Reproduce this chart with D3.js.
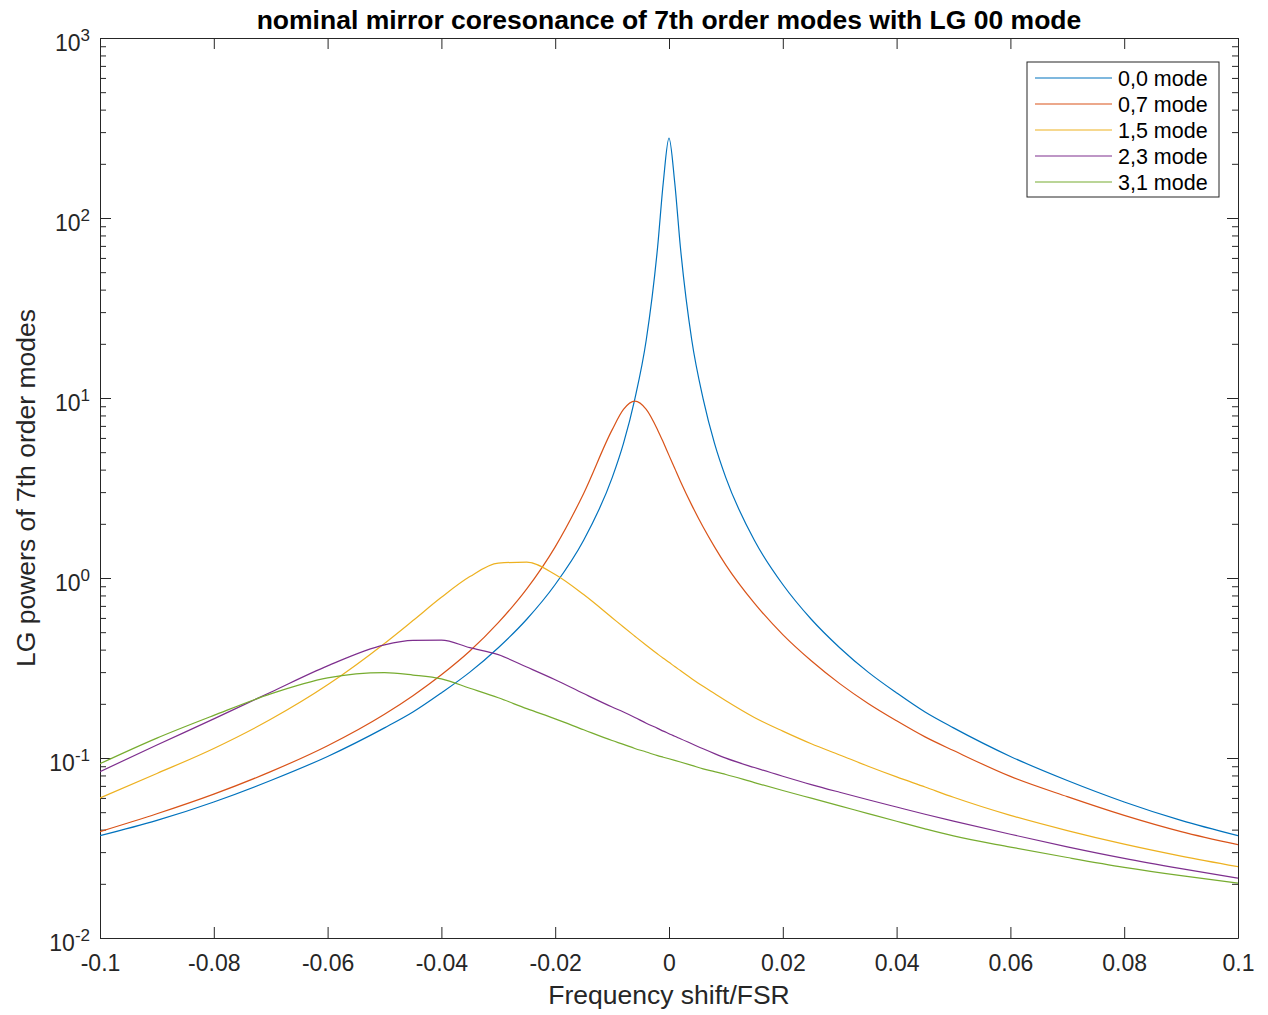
<!DOCTYPE html>
<html>
<head>
    <meta charset="utf-8">
    <style>
        body { margin: 0; background: #fff; }
        text { font-family: "Liberation Sans", Arial, sans-serif; fill: #262626; }
        .axis path, .axis line { stroke: #262626; }
    </style>
</head>
<body>
    <div id="container"></div>
    <script src="https://d3js.org/d3.v7.min.js"></script>
    <script>
        // frequency grid (shift / FSR)
        const freq = [-0.1, -0.09, -0.08, -0.07, -0.06, -0.05, -0.045, -0.04, -0.035, -0.03, -0.025, -0.02, -0.015,
            -0.01, -0.008, -0.006, -0.004, -0.002, -0.001, 0, 0.001, 0.002, 0.004, 0.006, 0.008, 0.01,
            0.015, 0.02, 0.025, 0.03, 0.035, 0.04, 0.045, 0.05, 0.06, 0.07, 0.08, 0.09, 0.1];

        const mode00 = [0.037, 0.045, 0.057, 0.075, 0.102, 0.147, 0.18, 0.23, 0.30, 0.41, 0.59, 0.92, 1.62,
            3.6, 5.6, 9.9, 21, 69, 158, 278, 158, 69, 21, 9.9, 5.6, 3.6,
            1.62, 0.92, 0.59, 0.41, 0.30, 0.23, 0.18, 0.147, 0.102, 0.075, 0.057, 0.045, 0.037];

        const mode07 = [0.039, 0.049, 0.063, 0.084, 0.117, 0.175, 0.222, 0.29, 0.393, 0.565, 0.87, 1.49, 2.95,
            6.65, 8.64, 9.6, 8.64, 6.65, 5.67, 4.8, 4.07, 3.45, 2.54, 1.92, 1.49, 1.18,
            0.725, 0.485, 0.347, 0.259, 0.201, 0.161, 0.131, 0.11, 0.079, 0.061, 0.048, 0.039, 0.033];

        const mode15 = [0.060, 0.082, 0.113, 0.164, 0.255, 0.433, 0.58, 0.781, 1.018, 1.21, 1.225, 1.046, 0.809,
            0.602, 0.534, 0.475, 0.423, 0.378, 0.358, 0.34, 0.322, 0.306, 0.276, 0.25, 0.228, 0.208,
            0.168, 0.141, 0.12, 0.104, 0.09, 0.0785, 0.069, 0.0605, 0.048, 0.0395, 0.0332, 0.0285, 0.0249];

        const mode23 = [0.084, 0.118, 0.165, 0.232, 0.325, 0.425, 0.45, 0.452, 0.41, 0.375, 0.32, 0.272, 0.228,
            0.192, 0.18, 0.168, 0.156, 0.146, 0.141, 0.1365, 0.132, 0.128, 0.12, 0.1125, 0.1058, 0.0998,
            0.0885, 0.0792, 0.0712, 0.0645, 0.0586, 0.0534, 0.0487, 0.0446, 0.0377, 0.0321, 0.0277, 0.0243, 0.0215];

        const mode31 = [0.093, 0.129, 0.1725, 0.227, 0.2785, 0.298, 0.289, 0.275, 0.244, 0.216, 0.188, 0.165, 0.1435,
            0.125, 0.119, 0.113, 0.108, 0.103, 0.101, 0.099, 0.097, 0.095, 0.091, 0.087, 0.084, 0.081,
            0.073, 0.066, 0.0598, 0.0542, 0.0491, 0.0445, 0.0404, 0.0369, 0.032, 0.028, 0.0247, 0.0222, 0.0202];

        const seriesNames = ["0,0 mode", "0,7 mode", "1,5 mode", "2,3 mode", "3,1 mode"];
        const seriesColors = ["#0072BD", "#D95319", "#EDB120", "#7E2F8E", "#77AC30"];
        const seriesValues = [mode00, mode07, mode15, mode23, mode31];

        const xTicks = [-0.1, -0.08, -0.06, -0.04, -0.02, 0, 0.02, 0.04, 0.06, 0.08, 0.1];
        const xTickLabels = ["-0.1", "-0.08", "-0.06", "-0.04", "-0.02", "0", "0.02", "0.04", "0.06", "0.08", "0.1"];
        const yExponents = [-2, -1, 0, 1, 2, 3];

        const width = 1268, height = 1015;
        const margin = { left: 100, right: 30, top: 38, bottom: 77 };
        const plotW = width - margin.left - margin.right;
        const plotH = height - margin.top - margin.bottom;

        const x = d3.scaleLinear().domain([-0.1, 0.1]).range([0, plotW]);
        const y = d3.scaleLog().domain([1e-2, 1e3]).range([plotH, 0]);

        const svg = d3.select("#container").append("svg")
            .attr("width", width)
            .attr("height", height);

        const g = svg.append("g")
            .attr("transform", `translate(${margin.left},${margin.top})`);

        g.append("clipPath").attr("id", "clip")
            .append("rect").attr("width", plotW).attr("height", plotH);

        // minor y ticks
        const minorTicks = [];
        yExponents.slice(0, -1).forEach(e => {
            for (let k = 2; k <= 9; k++) minorTicks.push(k * Math.pow(10, e));
        });

        // bottom axis with labels
        const xAxis = g.append("g").attr("class", "axis")
            .attr("transform", `translate(0,${plotH})`)
            .call(d3.axisBottom(x).tickValues(xTicks).tickSizeInner(-11).tickSizeOuter(0).tickPadding(17)
                .tickFormat((d, i) => xTickLabels[i]));
        xAxis.selectAll("text").attr("font-size", 23).style("fill", "#262626");

        // top axis (ticks only)
        g.append("g").attr("class", "axis")
            .call(d3.axisTop(x).tickValues(xTicks).tickSizeInner(-11).tickSizeOuter(0).tickFormat(""));

        // left axis
        const yAxis = g.append("g").attr("class", "axis")
            .call(d3.axisLeft(y).tickValues(yExponents.map(e => Math.pow(10, e)))
                .tickSizeInner(-11).tickSizeOuter(0).tickFormat(""));
        yAxis.selectAll(".tick").each(function (d) {
            const t = d3.select(this).append("text")
                .attr("x", -10).attr("y", 12)
                .attr("text-anchor", "end")
                .attr("font-size", 23);
            t.append("tspan").text("10");
            t.append("tspan").attr("dy", -10).attr("font-size", 17).text(Math.round(Math.log10(d)));
        });
        g.append("g").attr("class", "axis")
            .call(d3.axisLeft(y).tickValues(minorTicks).tickSizeInner(-6).tickSizeOuter(0).tickFormat(""))
            .select(".domain").remove();

        // right axis
        g.append("g").attr("class", "axis")
            .attr("transform", `translate(${plotW},0)`)
            .call(d3.axisRight(y).tickValues(yExponents.map(e => Math.pow(10, e)))
                .tickSizeInner(-11).tickSizeOuter(0).tickFormat(""));
        g.append("g").attr("class", "axis")
            .attr("transform", `translate(${plotW},0)`)
            .call(d3.axisRight(y).tickValues(minorTicks).tickSizeInner(-6).tickSizeOuter(0).tickFormat(""))
            .select(".domain").remove();

        // curves
        const line = d3.line()
            .x((d, i) => x(freq[i]))
            .y(d => y(d))
            .curve(d3.curveMonotoneX);

        g.append("g").attr("clip-path", "url(#clip)")
            .selectAll("path")
            .data(seriesValues)
            .join("path")
            .attr("fill", "none")
            .attr("stroke", (d, i) => seriesColors[i])
            .attr("stroke-width", 1.2)
            .attr("d", line);

        // title and labels
        svg.append("text")
            .attr("x", margin.left + plotW / 2).attr("y", 29)
            .attr("text-anchor", "middle")
            .attr("font-size", 26.5).attr("font-weight", "bold")
            .style("fill", "#000")
            .text("nominal mirror coresonance of 7th order modes with LG 00 mode");

        svg.append("text")
            .attr("x", margin.left + plotW / 2).attr("y", 1004)
            .attr("text-anchor", "middle")
            .attr("font-size", 26.5)
            .text("Frequency shift/FSR");

        svg.append("text")
            .attr("transform", `translate(35,${margin.top + plotH / 2}) rotate(-90)`)
            .attr("text-anchor", "middle")
            .attr("font-size", 26.5)
            .text("LG powers of 7th order modes");

        // legend
        const legend = svg.append("g").attr("transform", "translate(1027,62)");
        legend.append("rect")
            .attr("width", 192).attr("height", 135)
            .attr("fill", "#fff").attr("stroke", "#262626").attr("stroke-width", 1);
        const rows = legend.selectAll("g.row")
            .data(seriesNames)
            .join("g").attr("class", "row")
            .attr("transform", (d, i) => `translate(0,${16 + i * 26})`);
        rows.append("line")
            .attr("x1", 8).attr("x2", 85)
            .attr("stroke", (d, i) => seriesColors[i])
            .attr("stroke-width", 1.2);
        rows.append("text")
            .attr("x", 91).attr("y", 7.5)
            .attr("font-size", 21.5)
            .style("fill", "#000")
            .text(d => d);
    </script>
</body>
</html>
